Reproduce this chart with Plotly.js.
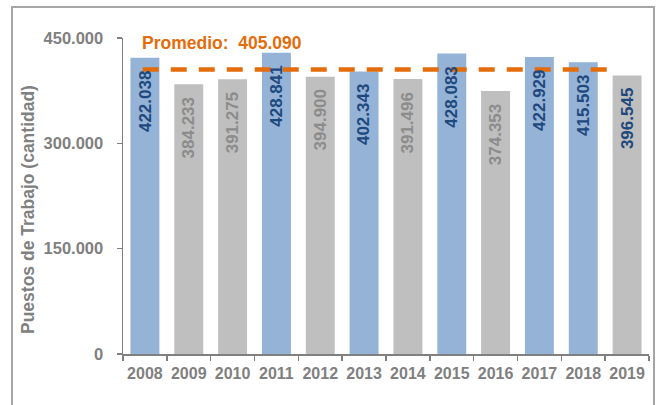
<!DOCTYPE html>
<html>
<head>
<meta charset="utf-8">
<script src="https://cdn.plot.ly/plotly-3.0.1.min.js"></script>
<style>
html,body{margin:0;padding:0;background:#fff;overflow:hidden;}
#wrap{position:relative;width:657px;height:405px;}
#chart{position:absolute;left:0;top:0;width:657px;height:405px;}
#frame{position:absolute;left:11px;top:6px;width:640px;height:420px;border:2px solid #a6a6a6;pointer-events:none;}
</style>
</head>
<body>
<div id="wrap"><div id="chart"></div><div id="frame"></div></div>
<script>
var years = ["2008","2009","2010","2011","2012","2013","2014","2015","2016","2017","2018","2019"];
var puestos = [422038,384233,391275,428841,394900,402343,391496,428083,374353,422929,415503,396545];
var barColors = ["#95B3D7","#BFBFBF","#BFBFBF","#95B3D7","#BFBFBF","#95B3D7","#BFBFBF","#95B3D7","#BFBFBF","#95B3D7","#95B3D7","#BFBFBF"];
var labelColors = ["#1F497D","#8C8C8C","#8C8C8C","#1F497D","#8C8C8C","#1F497D","#8C8C8C","#1F497D","#8C8C8C","#1F497D","#1F497D","#1F497D"];
var promedio = [405090];
var yTickVals = [0,150000,300000,450000];
var yTickText = ["0","150.000","300.000","450.000"];

function fmt(v){ return String(v).replace(/\B(?=(\d{3})+(?!\d))/g, "."); }

var font = "Liberation Sans, Arial, sans-serif";
var gray = "#808080";

var bars = {
  type: "bar",
  x: years,
  y: puestos,
  marker: {color: barColors, line: {width: 0}},
  width: 0.66,
  hoverinfo: "skip"
};

var annotations = years.map(function(yr, i){
  return {
    x: i, y: puestos[i], xref: "x", yref: "y",
    text: fmt(puestos[i]), textangle: -90, showarrow: false,
    xanchor: "center", yanchor: "top", yshift: -11,
    font: {family: font, size: 17, color: labelColors[i], weight: "bold"}
  };
});
annotations.push({
  xref: "paper", yref: "paper", x: (140-123)/526, y: (354-43)/316,
  xanchor: "left", yanchor: "middle", showarrow: false,
  text: "Promedio:  " + fmt(promedio[0]),
  font: {family: font, size: 17.5, color: "#E46C0A", weight: "bold"}
});
annotations.push({
  xref: "paper", yref: "paper", x: (28-123)/526, y: (354-210)/316,
  xanchor: "center", yanchor: "middle", showarrow: false, textangle: -90,
  text: "Puestos de Trabajo (cantidad)",
  font: {family: font, size: 17.5, color: gray, weight: "bold"}
});

var layout = {
  width: 657, height: 405,
  margin: {l: 123, r: 8, t: 38, b: 51, pad: 0},
  paper_bgcolor: "#ffffff", plot_bgcolor: "#ffffff",
  separators: ",.",
  showlegend: false,
  xaxis: {
    type: "category",
    categoryorder: "array", categoryarray: years,
    range: [-0.5, years.length - 0.5],
    showline: true, linecolor: gray, linewidth: 1.5,
    ticks: "outside", tickson: "boundaries", ticklen: 5, tickcolor: gray, tickwidth: 1.5,
    tickangle: 0,
    tickfont: {family: font, size: 16, color: gray, weight: "bold"},
    ticklabelstandoff: 4,
    showgrid: false, zeroline: false, fixedrange: true
  },
  xaxis2: {
    overlaying: "x", type: "linear", range: [-0.5, years.length - 0.5],
    visible: false, fixedrange: true
  },
  yaxis: {
    range: [0, 450000],
    tickvals: yTickVals, ticktext: yTickText,
    showline: true, linecolor: gray, linewidth: 1.5,
    ticks: "outside", ticklen: 5, tickcolor: gray, tickwidth: 1.5,
    tickfont: {family: font, size: 16.5, color: gray, weight: "bold"},
    ticklabelstandoff: 10,
    showgrid: false, zeroline: false, fixedrange: true
  },
  shapes: [{
    type: "line", xref: "x2", yref: "y",
    x0: -0.05, x1: 10.68, y0: promedio[0], y1: promedio[0],
    line: {color: "#E46C0A", width: 4.5, dash: "16px,12px"},
    layer: "above"
  }],
  annotations: annotations
};

Plotly.newPlot("chart", [bars], layout, {staticPlot: true, displayModeBar: false});
</script>
</body>
</html>
